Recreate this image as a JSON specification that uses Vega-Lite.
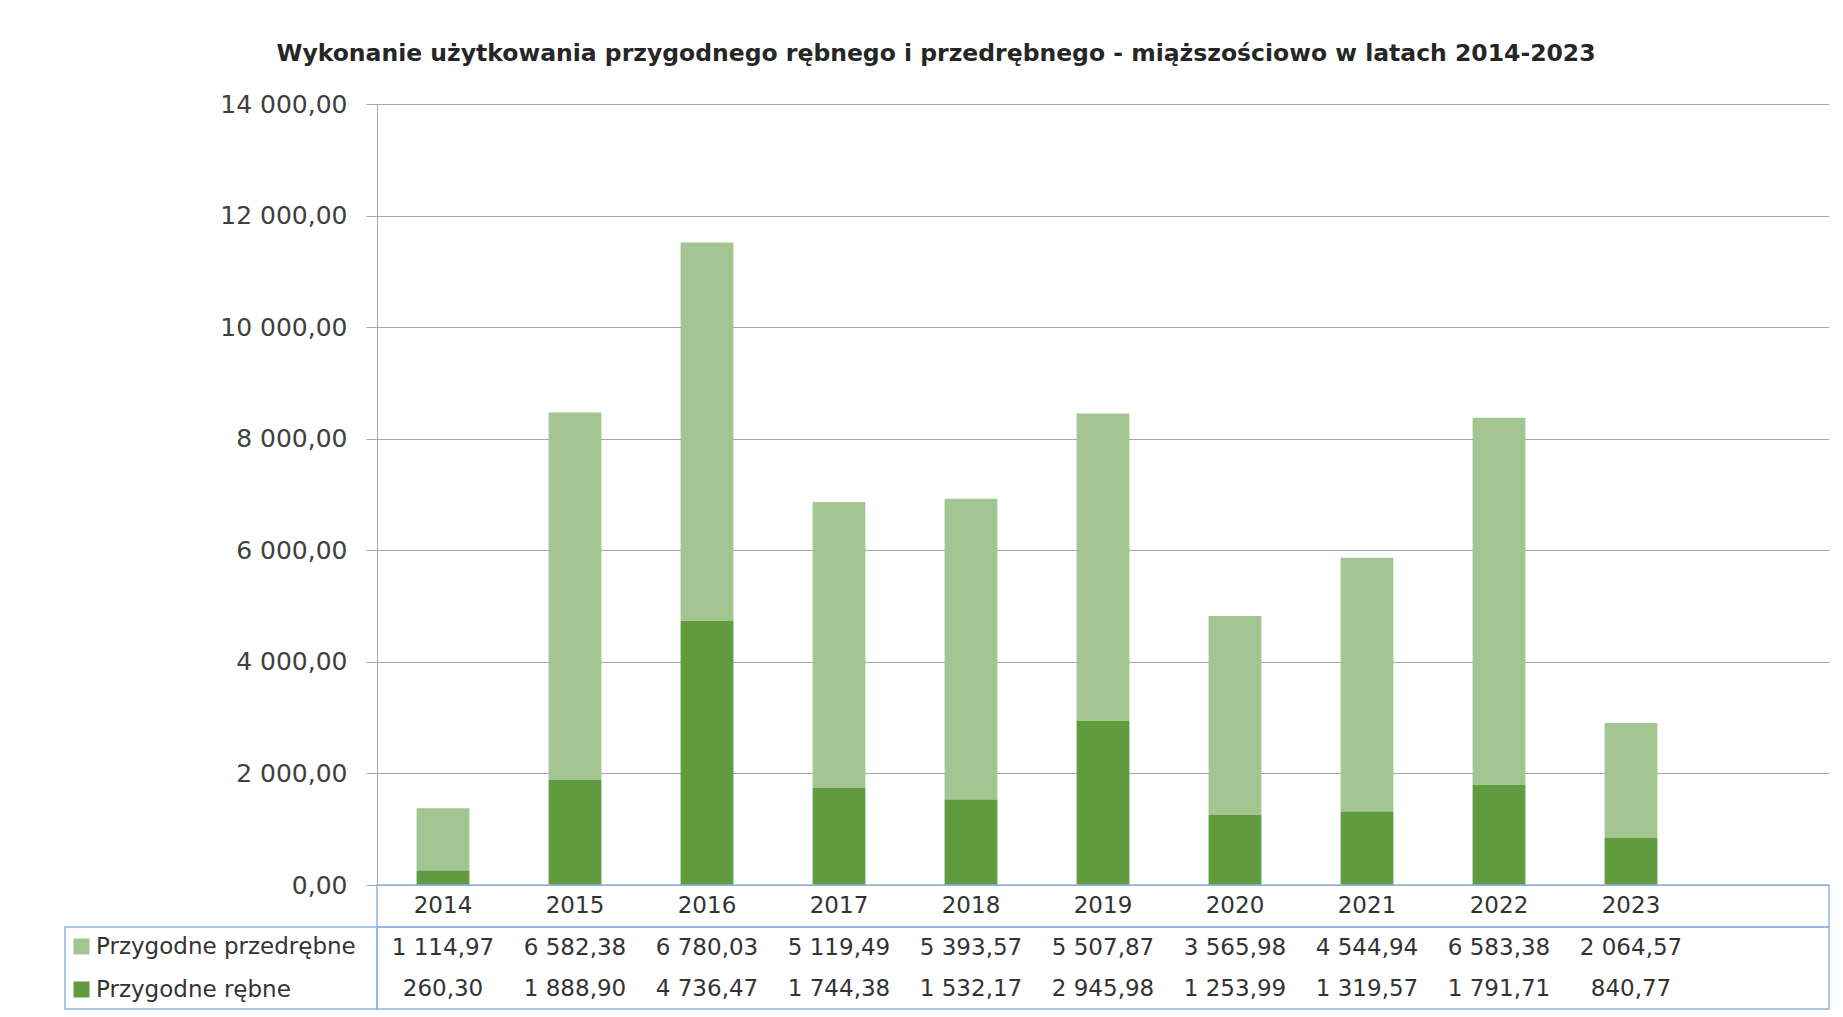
{
  "$schema": "https://vega.github.io/schema/vega-lite/v6.json",
  "padding": {"left": 64, "top": 41, "right": 15, "bottom": 9},
  "title": {
    "text": "Wykonanie użytkowania przygodnego rębnego i przedrębnego - miąższościowo w latach 2014-2023",
    "font": "DejaVu Sans",
    "fontSize": 23.5,
    "fontWeight": "bold",
    "color": "#262626",
    "anchor": "middle",
    "offset": 27,
    "dx": -11
  },
  "datasets": {
    "d": [
      {"year": "2014", "series": "Przygodne przedrębne", "value": 1114.97},
      {"year": "2015", "series": "Przygodne przedrębne", "value": 6582.38},
      {"year": "2016", "series": "Przygodne przedrębne", "value": 6780.03},
      {"year": "2017", "series": "Przygodne przedrębne", "value": 5119.49},
      {"year": "2018", "series": "Przygodne przedrębne", "value": 5393.57},
      {"year": "2019", "series": "Przygodne przedrębne", "value": 5507.87},
      {"year": "2020", "series": "Przygodne przedrębne", "value": 3565.98},
      {"year": "2021", "series": "Przygodne przedrębne", "value": 4544.94},
      {"year": "2022", "series": "Przygodne przedrębne", "value": 6583.38},
      {"year": "2023", "series": "Przygodne przedrębne", "value": 2064.57},
      {"year": "2014", "series": "Przygodne rębne", "value": 260.30},
      {"year": "2015", "series": "Przygodne rębne", "value": 1888.90},
      {"year": "2016", "series": "Przygodne rębne", "value": 4736.47},
      {"year": "2017", "series": "Przygodne rębne", "value": 1744.38},
      {"year": "2018", "series": "Przygodne rębne", "value": 1532.17},
      {"year": "2019", "series": "Przygodne rębne", "value": 2945.98},
      {"year": "2020", "series": "Przygodne rębne", "value": 1253.99},
      {"year": "2021", "series": "Przygodne rębne", "value": 1319.57},
      {"year": "2022", "series": "Przygodne rębne", "value": 1791.71},
      {"year": "2023", "series": "Przygodne rębne", "value": 840.77}
    ]
  },
  "config": {
    "locale": {"number": {"decimal": ",", "thousands": " ", "grouping": [3], "currency": ["", " zł"]}},
    "view": {"stroke": null},
    "font": "DejaVu Sans"
  },
  "columns": 2,
  "spacing": 0,
  "bounds": "flush",
  "align": "each",
  "concat": [
    {
      "width": 312, "height": 781,
      "data": {"values": []},
      "mark": "rect",
      "encoding": {}
    },
    {
      "width": 1452, "height": 781,
      "data": {"name": "d"},
      "mark": {"type": "bar"},
      "encoding": {
        "x": {
          "field": "year", "type": "nominal",
          "scale": {"domain": ["2014","2015","2016","2017","2018","2019","2020","2021","2022","2023"," "], "paddingInner": 0.6, "paddingOuter": 0.3},
          "axis": null
        },
        "y": {
          "field": "value", "type": "quantitative", "stack": "zero",
          "scale": {"domain": [0, 14000], "nice": false},
          "axis": {
            "title": null, "tickCount": 7, "format": ",.2f",
            "grid": true, "gridColor": "#a6a6a6", "gridWidth": 1,
            "domainColor": "#a6a6a6", "tickColor": "#a6a6a6", "tickSize": 11,
            "labelPadding": 19, "labelFontSize": 25, "labelColor": "#404040", "labelFont": "DejaVu Sans"
          }
        },
        "color": {
          "field": "series", "type": "nominal",
          "scale": {"domain": ["Przygodne przedrębne", "Przygodne rębne"], "range": ["#a3c592", "#629a3f"]},
          "legend": {
            "orient": "none", "legendX": 5, "legendY": 831, "title": null,
            "symbolType": "square", "symbolSize": 256, "symbolStrokeWidth": 0, "symbolOpacity": 1,
            "labelFontSize": 23, "labelColor": "#333333", "labelFont": "DejaVu Sans",
            "rowPadding": 19, "labelOffset": 3, "labelLimit": 400, "padding": 0
          }
        },
        "order": {"field": "series", "sort": "descending"}
      }
    },
    {
      "width": 312, "height": 42,
      "data": {"values": []},
      "mark": "rect",
      "encoding": {}
    },
    {
      "width": 1452, "height": 42,
      "view": {"stroke": "#8db3e2", "strokeWidth": 1.5},
      "data": {"name": "d"},
      "transform": [{"filter": "datum.series == 'Przygodne rębne'"}],
      "mark": {"type": "text", "fontSize": 23, "color": "#333333", "font": "DejaVu Sans"},
      "encoding": {
        "x": {
          "field": "year", "type": "nominal",
          "scale": {"domain": ["2014","2015","2016","2017","2018","2019","2020","2021","2022","2023"," "], "padding": 0.5},
          "axis": null
        },
        "text": {"field": "year", "type": "nominal"}
      }
    },
    {
      "width": 312, "height": 82,
      "view": {"stroke": "#8db3e2", "strokeWidth": 1.5},
      "data": {"values": []},
      "mark": "rect",
      "encoding": {}
    },
    {
      "width": 1452, "height": 82,
      "view": {"stroke": "#8db3e2", "strokeWidth": 1.5},
      "data": {"name": "d"},
      "mark": {"type": "text", "fontSize": 23, "color": "#333333", "font": "DejaVu Sans"},
      "encoding": {
        "x": {
          "field": "year", "type": "nominal",
          "scale": {"domain": ["2014","2015","2016","2017","2018","2019","2020","2021","2022","2023"," "], "padding": 0.5},
          "axis": null
        },
        "y": {
          "field": "series", "type": "nominal",
          "scale": {"domain": ["Przygodne przedrębne", "Przygodne rębne"], "padding": 0.5},
          "axis": null
        },
        "text": {"field": "value", "type": "quantitative", "format": ",.2f"}
      }
    }
  ]
}
